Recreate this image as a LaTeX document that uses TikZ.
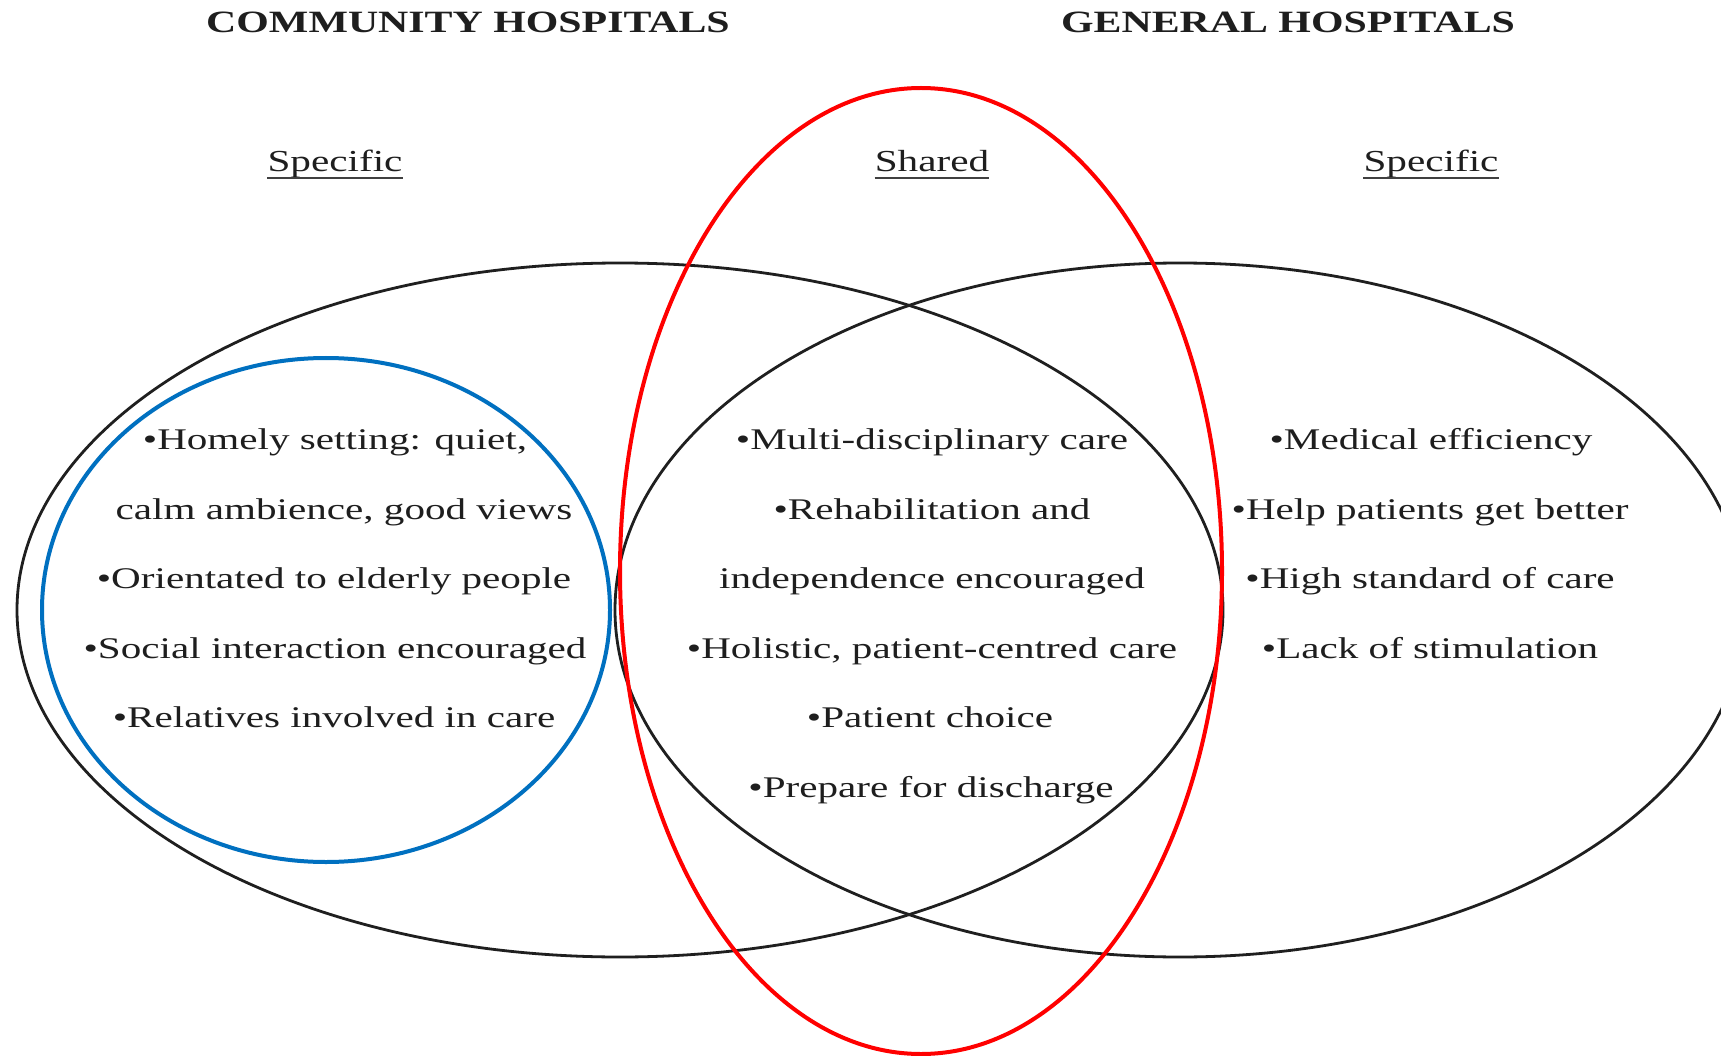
\documentclass[tikz,border=0pt]{standalone}
\usepackage{fontspec}
\setmainfont{Liberation Serif}
\usepackage{graphicx}
\definecolor{myred}{RGB}{255,0,0}
\definecolor{myblue}{RGB}{0,112,192}
\definecolor{txt}{RGB}{30,30,30}
\newcommand{\wbody}[1]{\scalebox{1.37}[1]{#1}}
\newcommand{\whead}[1]{\scalebox{1.35}[1]{#1}}
\begin{document}
\begin{tikzpicture}[x=1pt,y=-1pt,
  venn/.style={draw=black!88, line width=2.8pt},
  redring/.style={draw=myred, line width=4pt},
  bluering/.style={draw=myblue, line width=4pt},
  title/.style={anchor=base, inner sep=0pt, font=\fontsize{31}{36}\selectfont\bfseries, text=txt},
  head/.style={anchor=base, inner sep=0pt, font=\fontsize{30.5}{36}\selectfont, text=txt},
  item/.style={anchor=base, inner sep=0pt, font=\fontsize{30}{36}\selectfont, text=txt},
  uline/.style={draw=txt!85, line width=2pt}]
\useasboundingbox (0,0) rectangle (1721,1056);
\fill[white] (0,0) rectangle (1721,1056);

% circles
\draw[venn] (620,610) ellipse [x radius=603, y radius=347];
\draw[venn] (1180,610) ellipse [x radius=565, y radius=347];
\draw[bluering] (326,610) ellipse [x radius=284, y radius=252];
\draw[redring] (921,571) ellipse [x radius=301, y radius=483];

% titles
\node[title] (t1) at (468,33) {\whead{COMMUNITY HOSPITALS}};
\node[title] (t2) at (1288,33) {\whead{GENERAL HOSPITALS}};

% headings
\node[head] (h1) at (335,172) {\whead{Specific}};
\node[head] (h2) at (932,172) {\whead{Shared}};
\node[head] (h3) at (1431,172) {\whead{Specific}};
\draw[uline] ([yshift=-6pt]h1.base west) -- ([yshift=-6pt]h1.base east);
\draw[uline] ([yshift=-6pt]h2.base west) -- ([yshift=-6pt]h2.base east);
\draw[uline] ([yshift=-6pt]h3.base west) -- ([yshift=-6pt]h3.base east);

% left items
\node[item] (l1) at (335,449) {\wbody{•Homely setting: quiet,}};
\node[item] (l2) at (344,519) {\wbody{calm ambience, good views}};
\node[item] (l3) at (334,588) {\wbody{•Orientated to elderly people}};
\node[item] (l4) at (335,658) {\wbody{•Social interaction encouraged}};
\node[item] (l5) at (334,727) {\wbody{•Relatives involved in care}};

% shared items
\node[item] (m1) at (932,449) {\wbody{•Multi-disciplinary care}};
\node[item] (m2) at (932,519) {\wbody{•Rehabilitation and}};
\node[item] (m3) at (932,588) {\wbody{independence encouraged}};
\node[item] (m4) at (932,658) {\wbody{•Holistic, patient-centred care}};
\node[item] (m5) at (930,727) {\wbody{•Patient choice}};
\node[item] (m6) at (931,797) {\wbody{•Prepare for discharge}};

% right items
\node[item] (r1) at (1431,449) {\wbody{•Medical efficiency}};
\node[item] (r2) at (1430,519) {\wbody{•Help patients get better}};
\node[item] (r3) at (1430,588) {\wbody{•High standard of care}};
\node[item] (r4) at (1430,658) {\wbody{•Lack of stimulation}};
\end{tikzpicture}
\end{document}
